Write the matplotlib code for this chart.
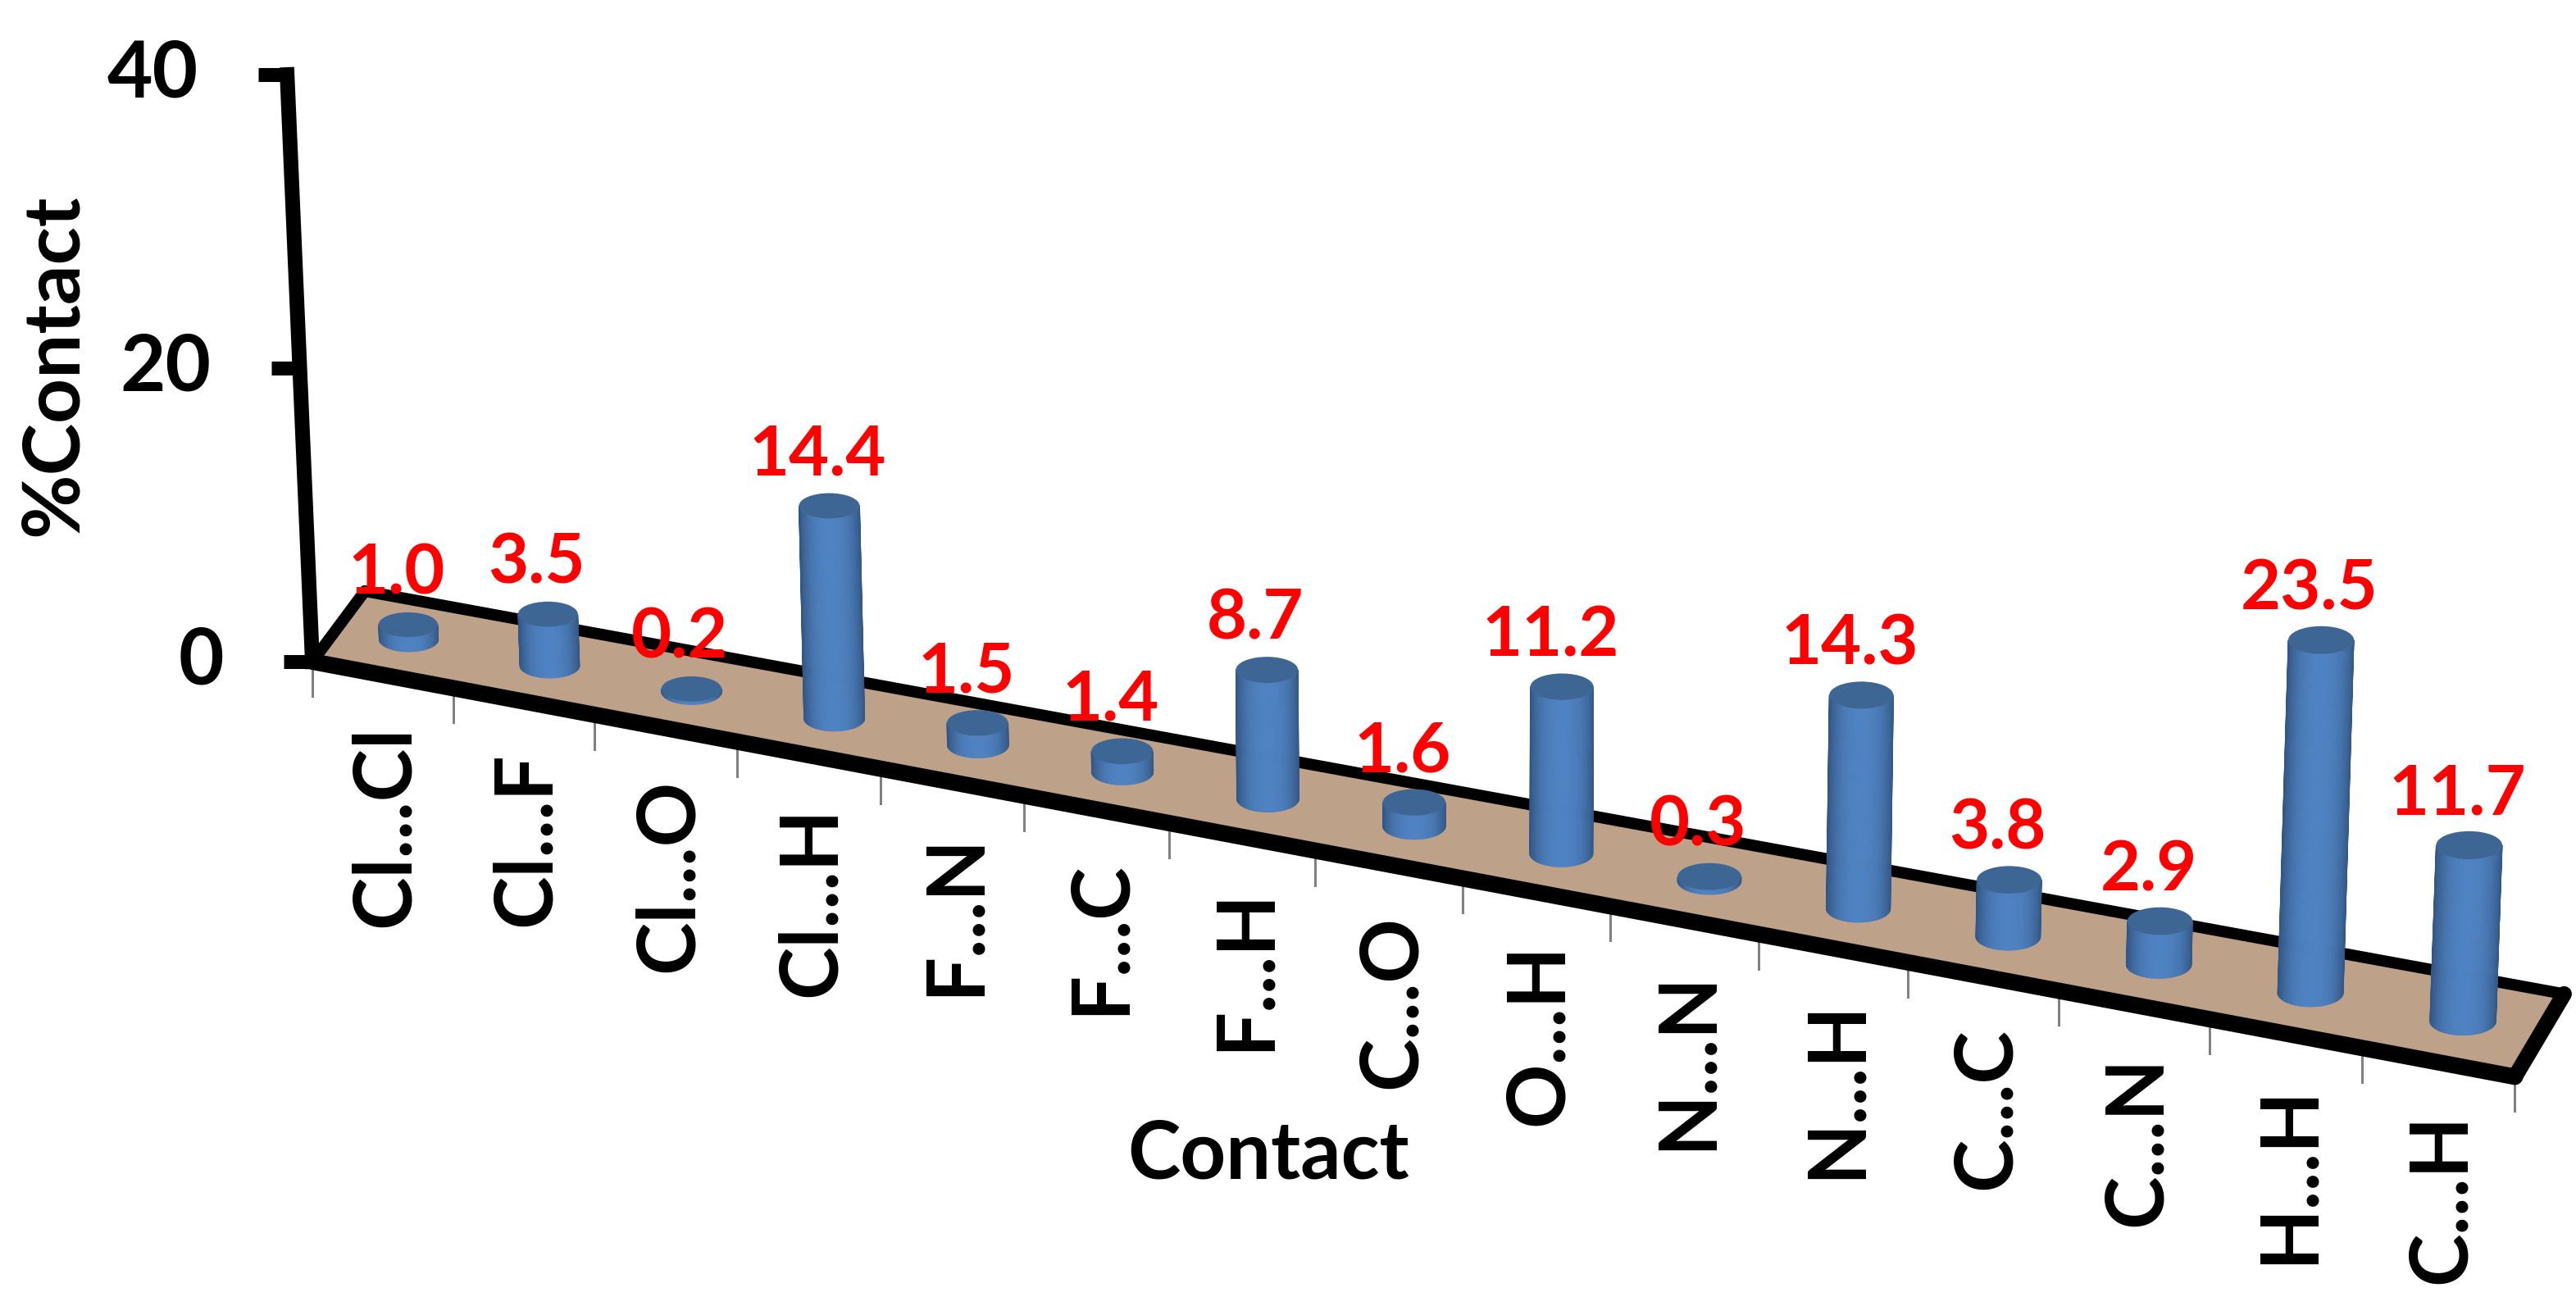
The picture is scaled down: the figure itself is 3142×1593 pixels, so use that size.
import matplotlib
matplotlib.use("Agg")
import matplotlib.pyplot as plt
from matplotlib.collections import PolyCollection
from matplotlib.patches import Ellipse, Polygon
import numpy as np

# Chart data
contacts = ["Cl...Cl", "Cl...F", "Cl...O", "Cl...H", "F...N", "F...C", "F...H", "C...O",
            "O...H", "N...N", "N...H", "C...C", "C...N", "H...H", "C...H"]
percent = [1.0, 3.5, 0.2, 14.4, 1.5, 1.4, 8.7, 1.6, 11.2, 0.3, 14.3, 3.8, 2.9, 23.5, 11.7]
percent_ticks = [0, 20, 40]

PX = 0.72  # points per pixel at dpi 100
plt.rcParams['font.family'] = ['Lato', 'DejaVu Sans']


# Fake 3D view: u runs along the categories, d into the floor, z is %Contact
def project(u, d, z):
    x = 381 + 171 * u + 0.54 * u**2
    y = 807 + 0.1885 * (x - 381)
    x = x + d * (64 - 0.27 * u)
    y = y - d * (86 + 1.0 * u)
    x = x + z * (-0.77 + 0.098 * u)
    y = y - z * (17.9 + 0.03 * u)
    return x, y


def lerp(a, b, t):
    return tuple(a[k] + (b[k] - a[k]) * t for k in range(3))


dark = (0.20, 0.34, 0.52)
mid = (0.31, 0.51, 0.76)
top_colour = "#3d6695"

fig = plt.figure(figsize=(31.42, 15.93), dpi=100)
ax = fig.add_axes([0, 0, 1, 1])
ax.set_xlim(0, 3142)
ax.set_ylim(1593, 0)
ax.axis("off")

n = len(contacts)

# Floor
corners = [project(0, 0, 0), project(0, 1, 0), project(n, 1, 0), project(n, 0, 0)]
ax.add_patch(Polygon(corners, closed=True, facecolor="#bda189", edgecolor="none", zorder=1))
for a, b, w in [(0, 1, 14), (1, 2, 14), (2, 3, 19), (3, 0, 20)]:
    ax.plot([corners[a][0], corners[b][0]], [corners[a][1], corners[b][1]],
            color="black", lw=w * PX, solid_capstyle="round", zorder=2)

# Category ticks and labels
for i in range(n + 1):
    x, y = project(i, 0, 0)
    ax.plot([x, x], [y, y + 42], color="#808080", lw=3 * PX, zorder=0.5)
for i, name in enumerate(contacts):
    x, y = project(i + 0.5, 0, 0)
    ax.text(x + 4, y + 62, name, rotation=90, ha="center", va="top",
            fontsize=70, fontweight="bold", color="black")

# Value axis
x0, y0 = project(0, 0, 0)
x1, y1 = project(0, 0, max(percent_ticks))
ax.plot([x0, x1], [y0, y1], color="black", lw=18 * PX, solid_capstyle="projecting", zorder=2)
for t in percent_ticks:
    x, y = project(0, 0, t)
    ax.plot([x - 35, x], [y, y], color="black", lw=17 * PX, solid_capstyle="butt", zorder=2)
    ax.text(x - 108, y, str(t), ha="right", va="center", fontsize=69, fontweight="bold")

# Cylinders
theta = np.linspace(0, np.pi, 41)
for i, v in enumerate(percent):
    u = i + 0.5
    bx, by = project(u, 0.5, 0)
    tx, ty = project(u, 0.5, v)
    rx = 36 + 0.3 * u
    ry = 15 + 0.15 * u
    strips = []
    colours = []
    for k in range(len(theta) - 1):
        th = theta[k:k + 2]
        cs = rx * np.cos(th)
        sn = ry * np.sin(th)
        strips.append([(bx + cs[0], by + sn[0]), (bx + cs[1], by + sn[1]),
                       (tx + cs[1], ty + sn[1]), (tx + cs[0], ty + sn[0])])
        edge = abs(np.cos(th.mean()))
        colours.append(lerp(mid, dark, edge**2.5))
    ax.add_collection(PolyCollection(strips, facecolors=colours, edgecolors=colours,
                                     linewidths=0.6, zorder=3 + i * 0.01))
    ax.add_patch(Ellipse((tx, ty), 2 * rx, 2 * ry, facecolor=top_colour,
                         edgecolor="none", zorder=3 + i * 0.01))
    ax.text(tx - 14, ty - 62, f"{v:.1f}", ha="center", va="center", color="#ff0000",
            fontsize=61, fontweight="bold", zorder=5)

# Axis titles
ax.text(66, 445, "%Contact", rotation=90, ha="center", va="center", fontsize=69, fontweight="bold")
ax.text(1547, 1409, "Contact", ha="center", va="center", fontsize=70, fontweight="bold")

fig.savefig("out.png", dpi=100, facecolor="white")
